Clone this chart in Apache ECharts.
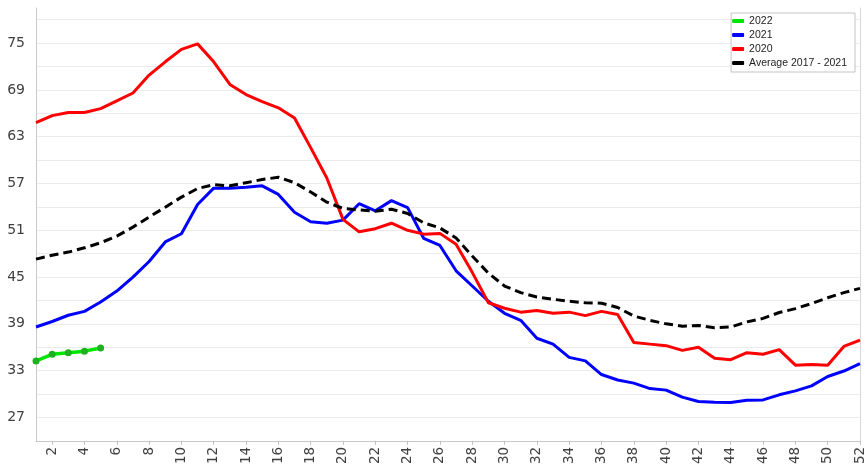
<!DOCTYPE html>
<html>
<head>
<meta charset="utf-8">
<script src="https://cdn.jsdelivr.net/npm/echarts@6/dist/echarts.min.js"></script>
<style>html,body{margin:0;padding:0;background:#fff}#c{width:868px;height:467px}</style>
</head>
<body>
<div id="c"></div>
<script>
const weeks = Array.from({length: 52}, (_, i) => String(i + 1));
const yTickLabels = [27, 33, 39, 45, 51, 57, 63, 69, 75];

const s2022 = [34.25, 35.1, 35.3, 35.5, 35.9];
const s2021 = [38.6, 39.3, 40.1, 40.6, 41.8, 43.2, 45.0, 47.0, 49.5, 50.55,
  54.3, 56.4, 56.4, 56.5, 56.7, 55.6, 53.3, 52.1, 51.9, 52.3,
  54.4, 53.5, 54.8, 53.9, 49.95, 49.05, 45.8, 43.85, 41.9, 40.35,
  39.45, 37.15, 36.4, 34.7, 34.25, 32.5, 31.8, 31.4, 30.7, 30.5,
  29.6, 29.05, 28.95, 28.9, 29.2, 29.25, 29.9, 30.4, 31.05, 32.25,
  32.95, 33.9];
const s2020 = [64.8, 65.7, 66.1, 66.1, 66.6, 67.6, 68.6, 70.9, 72.6, 74.2,
  74.9, 72.6, 69.7, 68.4, 67.5, 66.7, 65.4, 61.6, 57.7, 52.4,
  50.8, 51.2, 51.9, 51.0, 50.5, 50.6, 49.2, 45.6, 41.7, 41.0,
  40.5, 40.7, 40.35, 40.5, 40.05, 40.6, 40.2, 36.6, 36.4, 36.2,
  35.6, 36.0, 34.6, 34.4, 35.3, 35.1, 35.7, 33.7, 33.8, 33.7,
  36.1, 36.9];
const sAvg = [47.3, 47.8, 48.2, 48.75, 49.4, 50.25, 51.4, 52.7, 53.95, 55.25,
  56.35, 56.85, 56.7, 57.1, 57.5, 57.8, 57.1, 55.9, 54.6, 53.8,
  53.6, 53.45, 53.7, 53.15, 51.95, 51.3, 50.0, 47.7, 45.5, 43.85,
  43.0, 42.45, 42.15, 41.9, 41.7, 41.65, 41.1, 40.0, 39.45, 39.0,
  38.7, 38.8, 38.5, 38.6, 39.25, 39.7, 40.45, 40.95, 41.6, 42.35,
  43.0, 43.55];

const chart = echarts.init(document.getElementById('c'), null, {renderer: 'canvas'});
const evenIdx = (i) => (i + 1) % 2 === 0;
chart.setOption({
  animation: false,
  backgroundColor: '#ffffff',
  grid: {left: 36, right: 8, top: 8, bottom: 25.3, containLabel: false},
  legend: {
    orient: 'vertical', right: 13, top: 13,
    backgroundColor: '#ffffff', borderColor: '#c4c4c4', borderWidth: 1,
    padding: [1, 8, 2, 1], itemGap: 0, itemWidth: 12, itemHeight: 4,
    icon: 'roundRect',
    textStyle: {fontFamily: 'Liberation Sans', fontSize: 10.5, color: '#222', lineHeight: 14},
    data: [
      {name: '2022', itemStyle: {color: '#00e600'}},
      {name: '2021', itemStyle: {color: '#0000ff'}},
      {name: '2020', itemStyle: {color: '#ff0000'}},
      {name: 'Average 2017 - 2021', itemStyle: {color: '#000000'}}
    ]
  },
  xAxis: {
    type: 'category', data: weeks, boundaryGap: false,
    axisLine: {lineStyle: {color: '#c8c8c8', width: 1}},
    axisTick: {show: true, interval: (i) => evenIdx(i), length: 4, lineStyle: {color: '#c0c0c0'}},
    axisLabel: {interval: (i) => evenIdx(i), rotate: 90, margin: 6,
      fontFamily: 'DejaVu Sans', fontSize: 13.5, color: '#404040'},
    splitLine: {show: false}
  },
  yAxis: [{
    type: 'value', min: 24, max: 79.5, interval: 3,
    axisLine: {show: true, lineStyle: {color: '#c8c8c8'}},
    axisTick: {show: false},
    axisLabel: {margin: 11, fontFamily: 'DejaVu Sans', fontSize: 14, color: '#404040',
      formatter: (v) => yTickLabels.indexOf(v) >= 0 ? String(v) : ''},
    splitLine: {show: true, showMaxLine: false, lineStyle: {color: '#ebebeb', width: 1}}
  }, {
    type: 'value', position: 'right', min: 0, max: 1,
    axisLine: {show: true, lineStyle: {color: '#d8d8d8'}},
    axisTick: {show: false}, axisLabel: {show: false}, splitLine: {show: false}
  }],
  series: [
    {name: '2022', type: 'line', data: s2022, color: '#00e600', symbol: 'circle', symbolSize: 7,
      showSymbol: true, itemStyle: {color: '#1fb01f'}, lineStyle: {width: 3.5, color: '#00e600'}, z: 4},
    {name: '2021', type: 'line', data: s2021, color: '#0000ff', showSymbol: false,
      lineStyle: {width: 3, color: '#0000ff'}, z: 3},
    {name: '2020', type: 'line', data: s2020, color: '#ff0000', showSymbol: false,
      lineStyle: {width: 3, color: '#ff0000'}, z: 3},
    {name: 'Average 2017 - 2021', type: 'line', data: sAvg, color: '#000000', showSymbol: false,
      lineStyle: {width: 3, color: '#000000', type: [9, 5]}, z: 5}
  ]
});
</script>
</body>
</html>
